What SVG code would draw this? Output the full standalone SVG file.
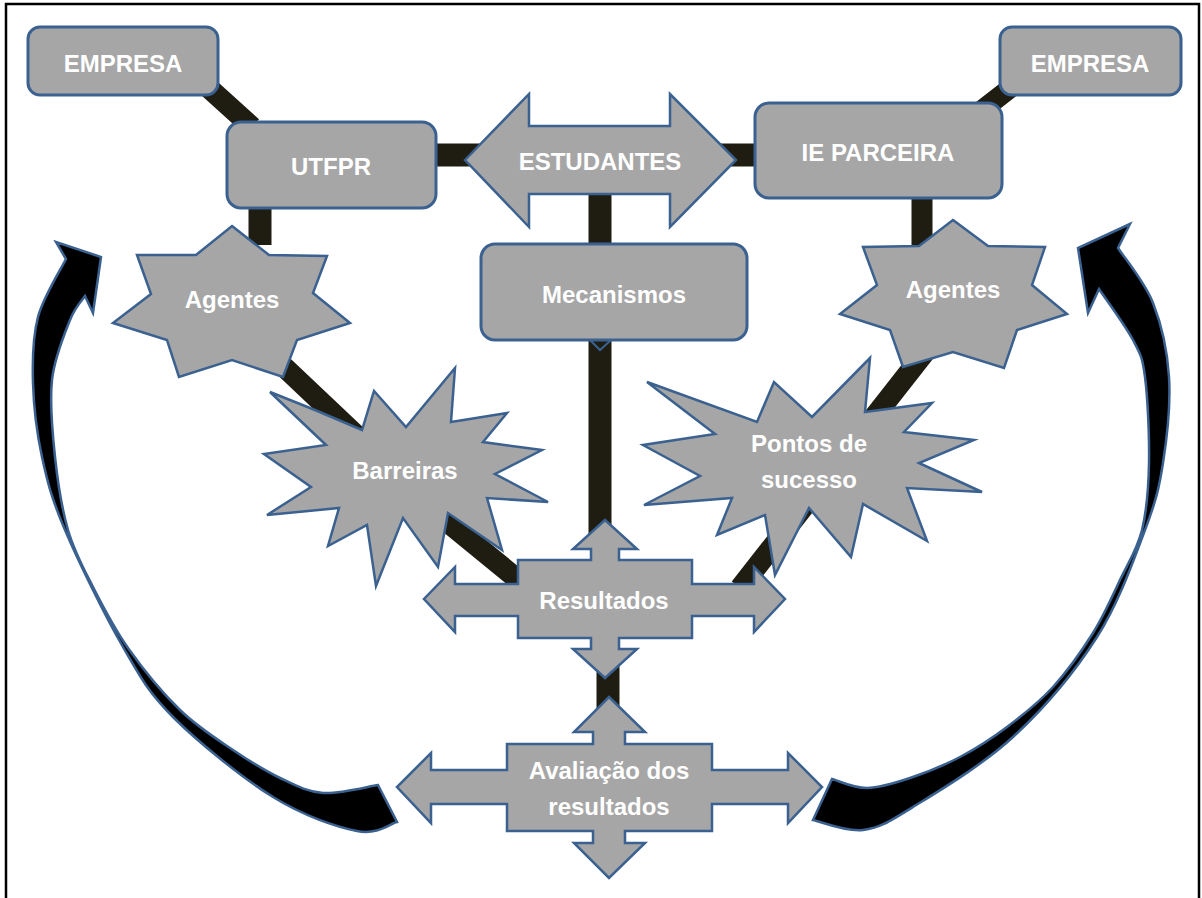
<svg xmlns="http://www.w3.org/2000/svg" width="1202" height="898" viewBox="0 0 1202 898">
  <style>
    .box { fill: #a6a6a6; stroke: #3a6190; stroke-width: 3; }
    .shape { fill: #a6a6a6; stroke: #3a6190; stroke-width: 2.5; stroke-linejoin: miter; }
    .band { fill: none; stroke: #1f1d12; stroke-linecap: butt; }
    .loop { fill: #000000; stroke: #3a6190; stroke-width: 2.5; stroke-linejoin: miter; }
    .lbl { font-family: "Liberation Sans", Arial, sans-serif; font-weight: bold; font-size: 24px; fill: #ffffff; text-anchor: middle; }
  </style>

  <!-- page frame -->
  <rect x="6" y="4" width="1193" height="910" fill="#ffffff" stroke="#000000" stroke-width="2.5"/>

  <!-- thick connectors -->
  <g id="connectors">
    <line class="band" x1="200" y1="80" x2="252" y2="127" stroke-width="21"/>
    <line class="band" x1="430" y1="155" x2="480" y2="155" stroke-width="23"/>
    <line class="band" x1="720" y1="155" x2="760" y2="155" stroke-width="23"/>
    <line class="band" x1="1022" y1="79" x2="968" y2="121" stroke-width="20"/>
    <line class="band" x1="260" y1="204" x2="260" y2="245" stroke-width="23"/>
    <line class="band" x1="922" y1="195" x2="922" y2="252" stroke-width="21"/>
    <line class="band" x1="600" y1="190" x2="600" y2="250" stroke-width="23"/>
    <line class="band" x1="600" y1="335" x2="600" y2="535" stroke-width="23"/>
    <polygon points="590,340 600,350 611,340" fill="#1f1d12" stroke="#3a6190" stroke-width="2"/>
    <polyline class="band" points="262,346 450,524 522,583" stroke-width="21"/>
    <line class="band" x1="925" y1="352" x2="740" y2="588" stroke-width="21"/>
    <line class="band" x1="608" y1="665" x2="608" y2="710" stroke-width="23"/>
  </g>

  <g id="empresa-left">
    <rect class="box" x="28" y="27" width="190" height="68" rx="12"/>
    <text class="lbl" x="123" y="72">EMPRESA</text>
  </g>

  <g id="utfpr">
    <rect class="box" x="227" y="122" width="209" height="86" rx="14"/>
    <text class="lbl" x="331" y="175">UTFPR</text>
  </g>

  <g id="estudantes">
    <polygon class="shape" points="465,160 529,94 529,126 670,126 670,94 736,160 670,227 670,194 529,194 529,227"/>
    <text class="lbl" x="600" y="170">ESTUDANTES</text>
  </g>

  <g id="ie-parceira">
    <rect class="box" x="755" y="103" width="247" height="95" rx="14"/>
    <text class="lbl" x="878" y="161">IE PARCEIRA</text>
  </g>

  <g id="empresa-right">
    <rect class="box" x="1000" y="27" width="181" height="68" rx="12"/>
    <text class="lbl" x="1090" y="72">EMPRESA</text>
  </g>

  <g id="mecanismos">
    <rect class="box" x="481" y="244" width="266" height="96" rx="14"/>
    <text class="lbl" x="614" y="303">Mecanismos</text>
  </g>

  <g id="agentes-left">
    <polygon class="shape" points="232,226 269,255 327,256 313,293 350,323 297,340 283,377 232,360 179,377 167,340 113,323 151,294 137,255 196,255"/>
    <text class="lbl" x="232" y="308">Agentes</text>
  </g>

  <g id="agentes-right">
    <polygon class="shape" points="953,220 988,246 1045,247 1032,285 1067,314 1017,330 1004,368 953,352 903,367 890,330 840,314 877,285 863,247 919,246"/>
    <text class="lbl" x="953" y="298">Agentes</text>
  </g>

  <g id="barreiras">
    <polygon class="shape" points="270,392 315,410 362,430 374,391 406,427 455,368 451,422 507,413 483,442 542,450 495,474 548,502 487,498 502,550 448,513 438,567 403,518 376,586 367,525 328,546 339,508 267,515 311,487 264,454 326,445"/>
    <text class="lbl" x="405" y="479">Barreiras</text>
  </g>

  <g id="pontos-de-sucesso">
    <polygon class="shape" points="647,382 757,422 774,382 812,417 870,358 865,412 932,403 904,432 974,440 919,463 982,492 907,488 927,541 863,504 851,557 809,508 775,575 765,515 717,535 732,498 644,505 700,476 643,445 715,434"/>
    <text class="lbl" x="809" y="452">Pontos de</text>
    <text class="lbl" x="809" y="488">sucesso</text>
  </g>

  <g id="resultados">
    <polygon class="shape" points="605,520 637,549 619,549 619,560 692,560 692,584 754,584 754,567 785,599 754,632 754,616 692,616 692,638 619,638 619,649 637,649 605,678 573,649 591,649 591,638 518,638 518,616 455,616 455,632 424,599 455,567 455,584 518,584 518,560 591,560 591,549 573,549"/>
    <text class="lbl" x="604" y="609">Resultados</text>
  </g>

  <g id="avaliacao">
    <polygon class="shape" points="609,697 645,732 625,732 625,744 712,744 712,770 788,770 788,753 822,787 788,823 788,804 712,804 712,831 625,831 625,843 645,843 609,878 574,843 593,843 593,831 507,831 507,804 431,804 431,823 397,787 431,753 431,770 507,770 507,744 593,744 593,732 574,732"/>
    <text class="lbl" x="609" y="779">Avaliação dos</text>
    <text class="lbl" x="609" y="815">resultados</text>
  </g>

  <!-- feedback loops back to the top -->
  <g id="loop-left">
    <path class="loop" d="M66,259 C61.3,268.7 43.5,296.3 38,317 C32.5,337.7 32.3,359.7 33,383 C33.7,406.3 36.7,432.5 42,457 C47.3,481.5 51.5,498.3 65,530 C78.5,561.7 105,615.8 123,647 C141,678.2 148,692 173,717 C198,742 242.3,778 273,797 C303.7,816 336.3,826.8 357,831 C377.7,835.2 390.3,823.5 397,822 L378,785 C368.8,786.3 339.3,794.2 323,793 C306.7,791.8 295,785.2 280,778 C265,770.8 249.7,761.3 233,750 C216.3,738.7 197.5,727 180,710 C162.5,693 142.5,668.5 128,648 C113.5,627.5 103,606.7 93,587 C83,567.3 74.3,551.7 68,530 C61.7,508.3 57.7,482 55,457 C52.3,432 49.5,402.8 52,380 C54.5,357.2 64.5,334 70,320 C75.5,306 82.5,300 85,296 L93,313 L101,257 L56,242 Z"/>
  </g>
  <g id="loop-right">
    <path class="loop" d="M1118,248 C1123.8,257.2 1144.5,281.5 1153,303 C1161.5,324.5 1167.3,350.3 1169,377 C1170.7,403.7 1167,437.5 1163,463 C1159,488.5 1156,501 1145,530 C1134,559 1119,602.5 1097,637 C1075,671.5 1043.7,708.7 1013,737 C982.3,765.3 938,791.5 913,807 C888,822.5 879.7,827.8 863,830 C846.3,832.2 821.3,821.7 813,820 L832,779 C837.8,780.5 854,788.2 867,788 C880,787.8 894.5,783.2 910,778 C925.5,772.8 943.8,765.5 960,757 C976.2,748.5 991.5,738.7 1007,727 C1022.5,715.3 1038.7,702.7 1053,687 C1067.3,671.3 1081.8,650.8 1093,633 C1104.2,615.2 1111.8,597.2 1120,580 C1128.2,562.8 1137.2,549.5 1142,530 C1146.8,510.5 1148.5,488.5 1149,463 C1149.5,437.5 1147.7,397.5 1145,377 C1142.3,356.5 1140.7,354.7 1133,340 C1125.3,325.3 1104.7,297.5 1099,289 L1088,313 L1078,248 L1130,224 Z"/>
  </g>
</svg>
